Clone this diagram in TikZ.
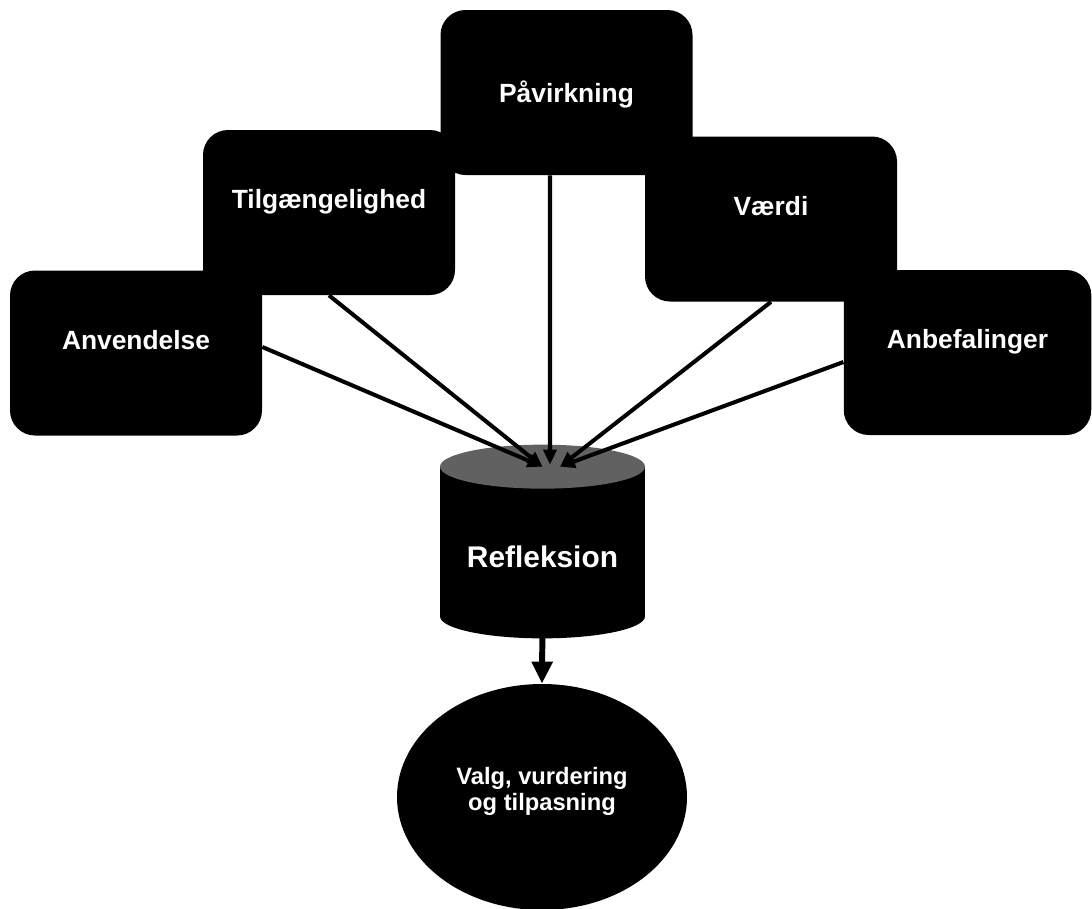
\documentclass[tikz,border=0pt]{standalone}
\usepackage{fontspec}
\setmainfont{Liberation Sans}
\usetikzlibrary{shapes.geometric}
\usetikzlibrary{arrows.meta}
\colorlet{topgray}{black!62}
\tikzset{
    factor/.style={
        rectangle,
        rounded corners=0.5cm,
        fill=black,
        text=white,
        minimum width=5.04cm,
        minimum height=3.3cm,
        font=\fontsize{15}{18}\selectfont\bfseries,
        text height=0.3cm,
        text depth=0.46cm},
    feed/.style={
        draw,
        ->,>={Triangle[length=0.3cm,width=0.26cm]},
        line width=2.3pt}}

\begin{document}
\begin{tikzpicture}
        \useasboundingbox (0,0) rectangle (21.84,-18.18);

        \node[factor] (anv) at (2.72,-7.06) {Anvendelse};
        \node[factor] (tilg) at (6.58,-4.25) {Tilgængelighed};
        \node[factor, text height=0.55cm, text depth=0.17cm] (pav) at (11.33,-1.85) {Påvirkning};
        \node[factor] (vaer) at (15.42,-4.38) {Værdi};
        \node[factor, minimum width=4.95cm] (anb) at (19.35,-7.05) {Anbefalinger};

        % cylinder
        \node[rectangle, fill=black, text=white, minimum width=4.1cm, minimum height=2.98cm,
              font=\fontsize{17}{20}\selectfont\bfseries, text height=1.05cm, text depth=0.03cm]
              (refl) at (10.85,-10.83) {Refleksion};
        \fill (refl.south) ellipse [x radius=2.05cm, y radius=0.44cm];
        \fill[topgray] (refl.north) ellipse [x radius=2.05cm, y radius=0.44cm];

        \node[ellipse, fill=black, text=white, minimum width=5.8cm, minimum height=4.52cm,
              inner sep=0pt, align=center, text depth=0.34cm,
              font=\fontsize{13.5}{14.7}\selectfont\bfseries]
              (valg) at (10.84,-15.94) {Valg, vurdering\\og tilpasning};

        \coordinate (tipL) at (refl.north);
        \coordinate (tipM) at ([xshift=0.15cm, yshift=0.04cm]refl.north);
        \coordinate (tipR) at ([xshift=0.35cm]refl.north);

        \draw[feed] ([yshift=0.12cm]anv.east) -- (tipL);
        \draw[feed] (tilg.south) -- (tipL);
        \draw[feed] ([xshift=-0.33cm]pav.south) -- (tipM);
        \draw[feed] (vaer.south) -- (tipR);
        \draw[feed] ([yshift=-0.19cm]anb.west) -- (tipR);

        \draw[feed, line width=3.4pt, >={Triangle[length=0.44cm,width=0.4cm]}] (refl.south) -- (valg.north);
    \end{tikzpicture}
\end{document}
